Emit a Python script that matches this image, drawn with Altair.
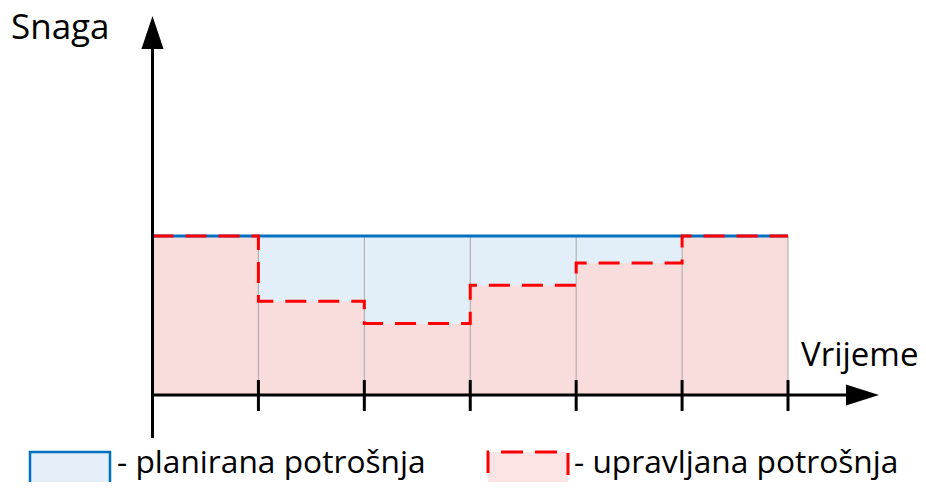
import altair as alt
import pandas as pd

# ---- data ----
ticks = [0, 1, 2, 3, 4, 5, 6]                 # time step boundaries
planned = [100, 100, 100, 100, 100, 100]      # planirana potrošnja per interval
controlled = [100, 59, 45, 69, 83, 100]       # upravljana potrošnja per interval
labels = ["Snaga", "Vrijeme", "- planirana potrošnja", "- upravljana potrošnja"]

BLUE = "#0070c0"
RED = "#ff0000"
FONT = "Open Sans"

seg = pd.DataFrame({
    "t0": ticks[:-1], "t1": ticks[1:],
    "planned": planned, "controlled": controlled,
    "base": [0] * len(planned),
})
step = pd.DataFrame({"t": ticks, "controlled": controlled + [controlled[-1]]})
plan_line = pd.DataFrame({"t0": [ticks[0]], "t1": [ticks[-1]], "planned": [planned[0]]})
grid = pd.DataFrame({"t": ticks[1:], "top": planned, "base": [0] * len(planned)})
origin = pd.DataFrame({"t": [ticks[0]], "v": [0]})
tick_df = pd.DataFrame({"t": ticks[1:]})

X = alt.Scale(domain=[0, 6], range=[144.5, 780], nice=False, zero=False)
Y = alt.Scale(domain=[0, 100], range=[387, 228], nice=False, zero=False)

red_fill = alt.Chart(seg).mark_rect(fill="#f9dcdc", strokeWidth=0).encode(
    x=alt.X("t0:Q", scale=X, axis=None), x2="t1:Q",
    y=alt.Y("base:Q", scale=Y, axis=None), y2="controlled:Q")

blue_fill = alt.Chart(seg).mark_rect(fill="#e2eef8", strokeWidth=0).encode(
    x=alt.X("t0:Q", scale=X, axis=None), x2="t1:Q",
    y=alt.Y("controlled:Q", scale=Y, axis=None), y2="planned:Q")

grid_lines = alt.Chart(grid).mark_rule(color="#a6a6a6", strokeWidth=1).encode(
    x=alt.X("t:Q", scale=X, axis=None),
    y=alt.Y("base:Q", scale=Y, axis=None), y2="top:Q")

blue_line = alt.Chart(plan_line).mark_rule(color=BLUE, strokeWidth=3).encode(
    x=alt.X("t0:Q", scale=X, axis=None), x2="t1:Q",
    y=alt.Y("planned:Q", scale=Y, axis=None))

red_line = alt.Chart(step).mark_line(
    interpolate="step-after", color=RED, strokeWidth=3, strokeDash=[21, 12]
).encode(x=alt.X("t:Q", scale=X, axis=None), y=alt.Y("controlled:Q", scale=Y, axis=None))

y_axis = alt.Chart(origin).mark_rule(color="black", strokeWidth=3).encode(
    x=alt.X("t:Q", scale=X, axis=None), y=alt.value(41), y2=alt.value(430))

x_axis = alt.Chart(origin).mark_rule(color="black", strokeWidth=3).encode(
    x=alt.X("t:Q", scale=X, axis=None), x2=alt.value(840),
    y=alt.Y("v:Q", scale=Y, axis=None))

y_arrow = alt.Chart(origin).mark_point(
    shape="M-0.67,1L0,-1L0.67,1Z", filled=True, color="black", opacity=1, size=1089, strokeWidth=0
).encode(x=alt.X("t:Q", scale=X, axis=None), y=alt.value(24.5))

x_arrow = alt.Chart(origin).mark_point(
    shape="M-1,-0.64L1,0L-1,0.64Z", filled=True, color="black", opacity=1, size=1089, strokeWidth=0
).encode(x=alt.value(854.5), y=alt.Y("v:Q", scale=Y, axis=None))

tick_marks = alt.Chart(tick_df).mark_rule(color="black", strokeWidth=3).encode(
    x=alt.X("t:Q", scale=X, axis=None), y=alt.value(372), y2=alt.value(403))


def label(text, x, y, size):
    return alt.Chart(pd.DataFrame({"label": [text]})).mark_text(
        font=FONT, fontSize=size, color="black",
        align="left", baseline="alphabetic"
    ).encode(text="label:N", x=alt.value(x), y=alt.value(y))


snaga = label(labels[0], 3, 31, 35)
vrijeme = label(labels[1], 793, 358, 33)
leg1_text = label(labels[2], 109, 465, 31.7)
leg2_text = label(labels[3], 566, 465, 31.7)

leg_df = pd.DataFrame({"k": [0]})
leg1_box = alt.Chart(leg_df).mark_rect(fill="#e4eff9", stroke=BLUE, strokeWidth=2.5).encode(
    x=alt.value(22), x2=alt.value(102), y=alt.value(444), y2=alt.value(500))
leg2_box = alt.Chart(leg_df).mark_rect(
    fill="#fce4e4", stroke=RED, strokeWidth=3, strokeDash=[22, 12], strokeDashOffset=21
).encode(x=alt.value(480), x2=alt.value(560), y=alt.value(444), y2=alt.value(500))

chart = alt.layer(
    red_fill, blue_fill, grid_lines, blue_line, red_line,
    x_axis, y_axis, tick_marks, y_arrow, x_arrow,
    snaga, vrijeme, leg1_box, leg2_box, leg1_text, leg2_text,
).properties(
    width=910, height=474,
    autosize=alt.AutoSizeParams(type="none"),
    padding=0, background="white",
).configure_view(stroke=None)

chart.save("out.html", embed_options={"renderer": "svg", "actions": False})
